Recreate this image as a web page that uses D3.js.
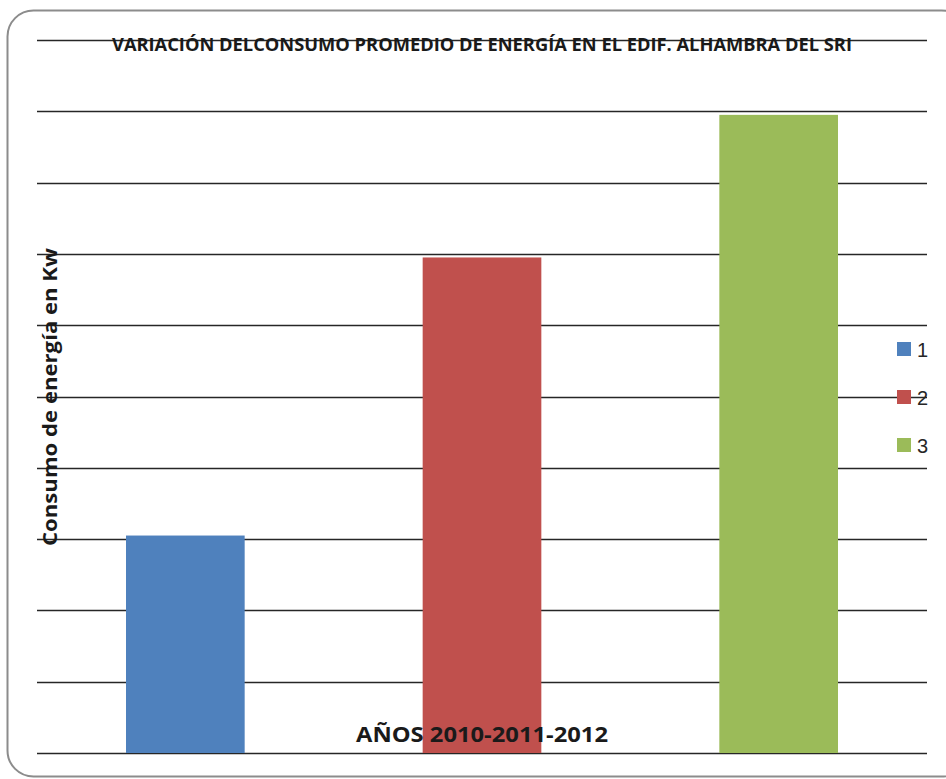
<!DOCTYPE html>
<html>
<head>
<meta charset="utf-8">
<script src="https://cdn.jsdelivr.net/npm/d3@7"></script>
<style>
  html, body { margin: 0; padding: 0; background: #fff; }
  svg { display: block; }
</style>
</head>
<body>
<svg id="chart" width="946" height="779"></svg>
<script>
// Average energy consumption, Alhambra building (SRI), years 1..3
const categories = ["1", "2", "3"];
const consumo = [3.05, 6.95, 8.95];
const colores = ["#4F81BD", "#C0504D", "#9BBB59"];
const yTicks = [0, 1, 2, 3, 4, 5, 6, 7, 8, 9, 10];

const titulo = "VARIACIÓN DELCONSUMO  PROMEDIO DE ENERGÍA EN EL EDIF. ALHAMBRA DEL SRI";
const ejeY = "Consumo de energía en Kw";
const ejeX = "AÑOS 2010-2011-2012";

const svg = d3.select("#chart");
const font = "'Liberation Sans Narrow', 'Open Sans', 'DejaVu Sans', sans-serif";

// outer rounded frame
svg.append("rect")
  .attr("x", 7.5).attr("y", 10.5)
  .attr("width", 960).attr("height", 766)
  .attr("rx", 26).attr("ry", 26)
  .attr("fill", "#fff")
  .attr("stroke", "#8c8c8c")
  .attr("stroke-width", 2);

const plot = { left: 37, right: 927, top: 40, bottom: 753 };

const x = d3.scaleBand()
  .domain(categories)
  .range([plot.left, plot.right])
  .paddingInner(0.6)
  .paddingOuter(0.3);

const y = d3.scaleLinear()
  .domain([0, 10])
  .range([plot.bottom, plot.top]);

// horizontal gridlines
svg.append("g")
  .selectAll("line")
  .data(yTicks)
  .join("line")
  .attr("x1", plot.left).attr("x2", plot.right)
  .attr("y1", d => Math.round(y(d)) + 0.5)
  .attr("y2", d => Math.round(y(d)) + 0.5)
  .attr("stroke", "#262626")
  .attr("stroke-width", 1.3);

// bars
svg.append("g")
  .selectAll("rect")
  .data(consumo)
  .join("rect")
  .attr("x", (d, i) => x(categories[i]))
  .attr("y", d => y(d))
  .attr("width", x.bandwidth())
  .attr("height", d => y(0) - y(d))
  .attr("fill", (d, i) => colores[i]);

// title
svg.append("text")
  .attr("x", (plot.left + plot.right) / 2)
  .attr("y", 51)
  .attr("text-anchor", "middle")
  .attr("font-family", font)
  .attr("font-weight", "bold")
  .attr("font-size", 18.5)
  .attr("fill", "#1a1a1a")
  .attr("textLength", 740)
  .attr("lengthAdjust", "spacingAndGlyphs")
  .text(titulo);

// y axis title
svg.append("text")
  .attr("transform", "translate(57,397) rotate(-90)")
  .attr("text-anchor", "middle")
  .attr("font-family", font)
  .attr("font-weight", "bold")
  .attr("font-size", 20)
  .attr("fill", "#1a1a1a")
  .attr("textLength", 298)
  .attr("lengthAdjust", "spacingAndGlyphs")
  .text(ejeY);

// x axis title
svg.append("text")
  .attr("x", (plot.left + plot.right) / 2)
  .attr("y", 742)
  .attr("text-anchor", "middle")
  .attr("font-family", font)
  .attr("font-weight", "bold")
  .attr("font-size", 21)
  .attr("fill", "#1a1a1a")
  .attr("textLength", 252)
  .attr("lengthAdjust", "spacingAndGlyphs")
  .text(ejeX);

// legend
const legend = svg.append("g")
  .selectAll("g")
  .data(categories)
  .join("g")
  .attr("transform", (d, i) => `translate(897,${342 + i * 48})`);

legend.append("rect")
  .attr("width", 14).attr("height", 14)
  .attr("fill", (d, i) => colores[i]);

legend.append("text")
  .attr("x", 20).attr("y", 15)
  .attr("font-family", "'Liberation Sans', 'DejaVu Sans', sans-serif")
  .attr("font-size", 20)
  .attr("fill", "#262626")
  .text(d => d);
</script>
</body>
</html>
